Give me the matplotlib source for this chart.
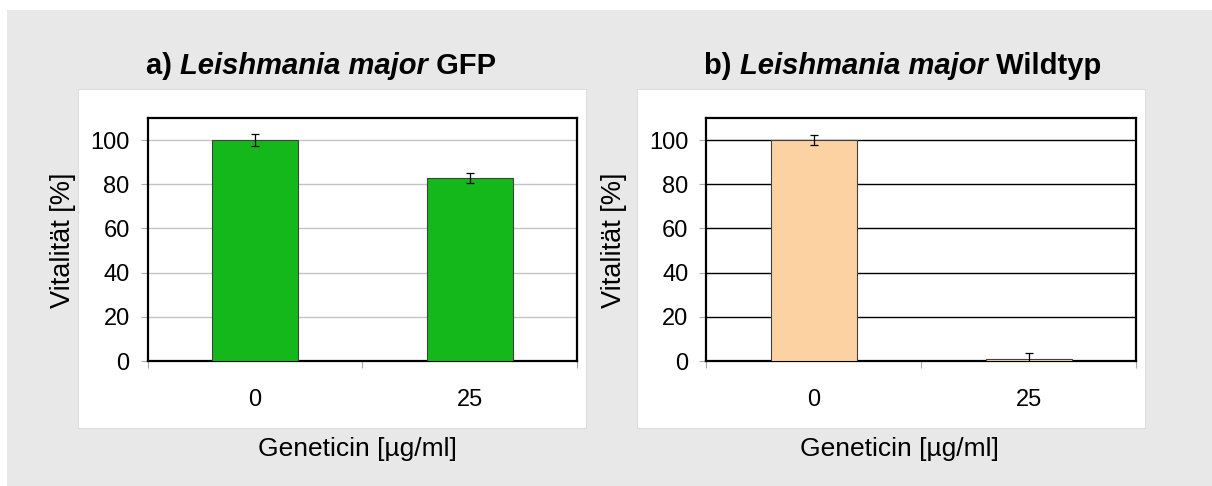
import numpy as np
import matplotlib
matplotlib.use("Agg")
import matplotlib.pyplot as plt
from matplotlib.patches import Rectangle

plt.rcParams['font.family'] = ['Liberation Sans', 'DejaVu Sans']

# geneticin concentrations and viability (mean +/- error)
konz = ['0', '25']
gfp_werte = [100, 83]
gfp_fehler = [2.7, 2.2]
wt_werte = [100, 1]
wt_fehler = [2.3, 2.4]

fig = plt.figure(figsize=(12.12, 4.86), dpi=100)
fig.patch.set_facecolor('white')

# gray backdrop and the two white chart areas
fig.patches.append(Rectangle((0.0058, 0), 1, 0.9794, transform=fig.transFigure,
                             facecolor='#e8e8e8', edgecolor='none', zorder=-3))
for x0 in (0.0644, 0.5256):
    fig.patches.append(Rectangle((x0, 0.1193), 0.419, 0.6975, transform=fig.transFigure,
                                 facecolor='white', edgecolor='#dedede', lw=0.8, zorder=-2))


def panel(rect, werte, fehler, farbe, gitterfarbe, teile, ylab_x, xlab_x):
    ax = fig.add_axes(rect)
    ax.set_facecolor('white')
    pos = np.arange(len(werte)) + 0.5
    ax.bar(pos, werte, width=0.4, color=farbe, edgecolor='#404040', lw=0.8, zorder=3)
    ax.errorbar(pos, werte, yerr=fehler, fmt='none', ecolor='black', elinewidth=0.9,
                capsize=3, capthick=0.9, zorder=4)
    ax.set_xlim(0, 2)
    ax.set_ylim(0, 110)
    ax.set_yticks(np.arange(0, 101, 20))
    ax.yaxis.grid(True, color=gitterfarbe, lw=1.0)
    ax.set_axisbelow(True)
    for s in ax.spines.values():
        s.set_linewidth(1.6)
        s.set_color('black')
    ax.set_xticks(pos)
    ax.set_xticklabels(konz)
    ax.set_xticks([0, 1, 2], minor=True)
    ax.tick_params(axis='x', which='major', length=0, pad=20, labelsize=17)
    ax.tick_params(axis='x', which='minor', length=5, color='#aaaaaa', width=0.8)
    ax.tick_params(axis='y', length=5, color='#aaaaaa', width=0.8, pad=8, labelsize=17)
    ax.set_ylabel('Vitalität [%]', fontsize=19.5)
    ax.yaxis.set_label_coords(ylab_x, 0.495)
    ax.set_xlabel('Geneticin [µg/ml]', fontsize=19)
    ax.xaxis.set_label_coords(xlab_x, -0.312)

    # title in three pieces: bold, bold italic, bold
    t = ax.text(-0.005, 1.181, teile[0], transform=ax.transAxes, fontsize=21,
                fontweight='bold', va='baseline', ha='left')
    t = ax.annotate(teile[1], xy=(1, 0), xycoords=t, fontsize=21, fontweight='bold',
                    fontstyle='italic', va='bottom', ha='left')
    ax.annotate(teile[2], xy=(1, 0), xycoords=t, fontsize=21, fontweight='bold',
                va='bottom', ha='left')
    return ax


panel([0.1219, 0.2572, 0.3542, 0.5], gfp_werte, gfp_fehler, '#14b81a', '#c4c4c4',
      ['a) ', 'Leishmania major', ' GFP'], -0.167, 0.4877)
panel([0.5829, 0.2572, 0.3546, 0.5], wt_werte, wt_fehler, '#fcd2a2', 'black',
      ['b) ', 'Leishmania major', ' Wildtyp'], -0.184, 0.450)

fig.savefig('out.png', dpi=100)
